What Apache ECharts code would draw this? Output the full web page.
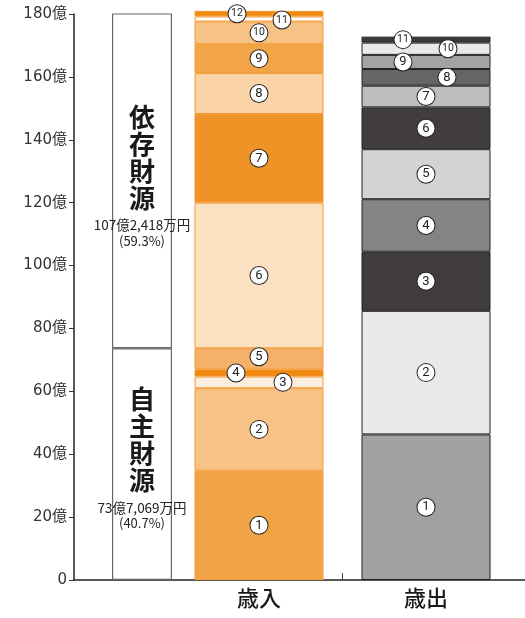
<!DOCTYPE html>
<html lang="ja" style="height: 100%">
<head>
  <meta charset="utf-8">
</head>
<body style="height: 100%; margin: 0; background: #fff">
  <div id="container" style="width: 525px; height: 618px"></div>

  <script type="text/javascript" src="https://fastly.jsdelivr.net/npm/echarts@6/dist/echarts.min.js"></script>

  <script type="text/javascript">
    // columns: the middle slot is empty, it only carries the divider tick
    var columns = ['歳入', '', '歳出'];

    // 億円, bottom segment first
    var revenueValues = [34.8, 26.2, 3.7, 2.3, 6.7, 46.3, 28.2, 13.0, 9.2, 7.2, 1.6, 1.8];
    var expenditureValues = [46.3, 39.3, 18.8, 16.7, 15.9, 13.3, 6.9, 5.3, 4.5, 3.9, 1.9];

    // 自主財源 / 依存財源 (億円)
    var sourceNames = ['自主財源', '依存財源'];
    var sourceValues = [73.7069, 107.2418];

    var yMax = 180;
    var yStep = 20;

    // styles
    var revenueColors = ['#F2A346', '#F7C286', '#FDEFDF', '#F08A0E', '#F5B169', '#FBE0C2',
                         '#F09327', '#FAD3A6', '#F2A446', '#F7C286', '#FFFFFF', '#F08A0E'];
    var expenditureColors = ['#A0A1A0', '#E8E9E8', '#403C3B', '#848484', '#D3D3D3', '#413D3C',
                             '#BDBDBD', '#666666', '#A3A3A3', '#E8E9E8', '#3A3A3A'];
    var revenueLabelShift = [[0, 0], [0, 0], [24, 0], [-23, 0], [0, -2], [0, 0],
                             [0, 0], [0, 0], [0, 0], [0, 0], [23, 1], [-22, 0]];
    var expenditureLabelShift = [[0, 0], [0, 0], [0, 0], [0, 0], [0, 0], [0, 0],
                                 [0, 0], [21, 0], [-23, 0], [22, 0], [-23, 0]];
    var sourceLabelShift = [[0, -6], [0, -5]];

    var cjk = '"Noto Sans CJK JP", sans-serif';

    var circleRich = {
      c: {
        width: 17, height: 17, lineHeight: 17, align: 'center',
        backgroundColor: '#fff', borderColor: '#222', borderWidth: 1, borderRadius: 9,
        fontSize: 13, color: '#222', fontFamily: 'Roboto, sans-serif'
      },
      d: {
        width: 17, height: 17, lineHeight: 17, align: 'center',
        backgroundColor: '#fff', borderColor: '#222', borderWidth: 1, borderRadius: 9,
        fontSize: 10.5, color: '#222', fontFamily: 'Roboto, sans-serif', letterSpacing: -0.5
      }
    };

    function circleLabel(n) {
      return n < 10 ? '{c|' + n + '}' : '{d|' + n + '}';
    }

    function stackSeries(values, colors, shifts, slot, border) {
      return values.map(function (v, i) {
        var data = columns.map(function (_, k) { return k === slot ? v : null; });
        return {
          type: 'bar',
          name: columns[slot] + (i + 1),
          xAxisIndex: 1,
          yAxisIndex: 1,
          stack: 'total',
          barWidth: 129,
          clip: false,
          data: data,
          itemStyle: { color: colors[i], borderColor: border, borderWidth: 1 },
          label: {
            show: true,
            position: 'inside',
            offset: shifts[i],
            formatter: circleLabel(i + 1),
            rich: circleRich
          }
        };
      });
    }

    var total = sourceValues[0] + sourceValues[1];

    function okuText(v) {
      var oku = Math.floor(v);
      var man = String(Math.round((v - oku) * 10000)).replace(/\B(?=(\d{3})+(?!\d))/g, ',');
      return oku + '億' + man + '万円';
    }

    var sourceSeries = sourceValues.map(function (v, i) {
      var chars = sourceNames[i].split('').map(function (ch) { return '{big|' + ch + '}'; }).join('\n');
      return {
        type: 'bar',
        name: sourceNames[i],
        xAxisIndex: 2,
        yAxisIndex: 2,
        stack: 'src',
        barWidth: 60,
        data: [v],
        itemStyle: { color: '#fff', borderColor: '#666', borderWidth: 1.2 },
        label: {
          show: true,
          position: 'inside',
          offset: sourceLabelShift[i],
          formatter: chars + '\n{small|' + okuText(v) + '}\n{pct|(' + (v / total * 100).toFixed(1) + '%)}',
          rich: {
            big: { fontSize: 26, fontWeight: 'bold', lineHeight: 27, color: '#1a1a1a', fontFamily: cjk },
            small: { fontSize: 13.5, lineHeight: 22, color: '#222', fontFamily: cjk, padding: [6, 0, 0, 0], letterSpacing: -0.6 },
            pct: { fontSize: 13, lineHeight: 15, color: '#222', fontFamily: cjk }
          }
        }
      };
    });

    var dom = document.getElementById('container');
    var myChart = echarts.init(dom, null, { renderer: 'canvas' });

    var option = {
      animation: false,
      grid: [
        { left: 74, right: 0, top: 14, bottom: 38 },
        { left: 259, right: 99, top: 14, bottom: 38 },
        { left: 112, width: 60, top: 14, bottom: 38 }
      ],
      xAxis: [
        {
          gridIndex: 0, type: 'category', data: [''],
          axisLine: { lineStyle: { color: '#222', width: 1.5 } },
          axisTick: { show: false }, axisLabel: { show: false }
        },
        {
          gridIndex: 1, type: 'category', data: columns, boundaryGap: false,
          axisLine: { show: false },
          axisTick: {
            show: true, inside: true, length: 7,
            lineStyle: { color: '#444' },
            interval: function (idx) { return columns[idx] === ''; }
          },
          axisLabel: {
            interval: 0, margin: 7, fontSize: 22, fontWeight: 500, color: '#1a1a1a', fontFamily: cjk
          }
        },
        {
          gridIndex: 2, type: 'category', data: ['財源'],
          axisLine: { show: false }, axisTick: { show: false }, axisLabel: { show: false }
        }
      ],
      yAxis: [
        {
          gridIndex: 0, type: 'value', min: 0, max: yMax, interval: yStep,
          axisLine: { show: true, lineStyle: { color: '#222', width: 1.5 } },
          axisTick: { show: true, length: 5, lineStyle: { color: '#333' } },
          splitLine: { show: false },
          axisLabel: {
            margin: 7, fontSize: 15, color: '#333',
            fontFamily: '"DejaVu Sans", "Noto Sans CJK JP", sans-serif',
            formatter: function (v) { return v === 0 ? '0' : v + '億'; }
          }
        },
        { gridIndex: 1, type: 'value', min: 0, max: yMax, show: false },
        { gridIndex: 2, type: 'value', min: 0, max: yMax, show: false }
      ],
      series: sourceSeries
        .concat(stackSeries(revenueValues, revenueColors, revenueLabelShift, 0, '#F39A35'))
        .concat(stackSeries(expenditureValues, expenditureColors, expenditureLabelShift, 2, '#222'))
    };

    myChart.setOption(option);

    window.addEventListener('resize', myChart.resize);
  </script>
</body>
</html>
